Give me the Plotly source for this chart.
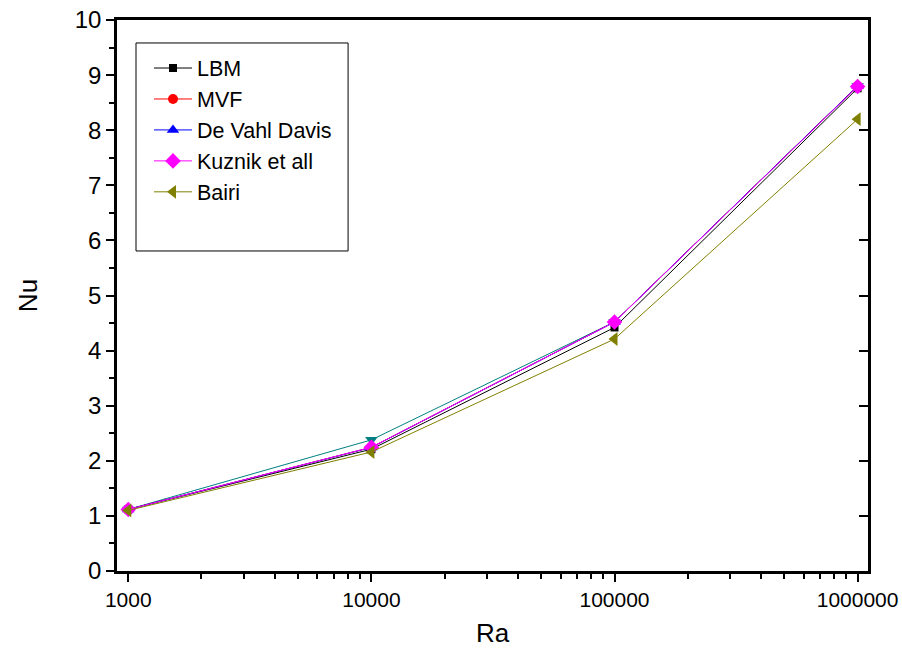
import plotly.graph_objects as go

ra = [1000, 10000, 100000, 1000000]
nu_lbm = [1.118, 2.21, 4.42, 8.76]
nu_mvf = [1.118, 2.245, 4.52, 8.80]
nu_dvd = [1.118, 2.243, 4.519, 8.800]
nu_kuz = [1.117, 2.246, 4.518, 8.792]
nu_bairi = [1.10, 2.16, 4.21, 8.20]
nu_extra = [1.118, 2.38, 4.52, 8.80]

x_ticks = [1000, 10000, 100000, 1000000]
x_ticktext = ["1000", "10000", "100000", "1000000"]
x_minor = [m * d for d in (1000, 10000, 100000) for m in range(2, 10)]

FONT = "Arial, Liberation Sans, sans-serif"

fig = go.Figure()

fig.add_trace(go.Scatter(x=ra, y=nu_extra, mode="lines+markers", showlegend=False,
                         line=dict(color="#008080", width=1),
                         marker=dict(symbol="triangle-down", size=11, color="#008080")))

series = [
    ("LBM", nu_lbm, "#000000", "square", 8),
    ("MVF", nu_mvf, "#ff0000", "circle", 10),
    ("De Vahl Davis", nu_dvd, "#0000ff", "triangle-up", 11),
    ("Kuznik et all", nu_kuz, "#ff00ff", "diamond", 12),
    ("Bairi", nu_bairi, "#808000", "triangle-left", 12),
]
for name, ys, col, sym, sz in series:
    fig.add_trace(go.Scatter(x=ra, y=ys, mode="lines+markers", name=name,
                             line=dict(color=col, width=1),
                             marker=dict(symbol=sym, size=sz, color=col)))

# empty helper trace so the right-hand tick axis is rendered
fig.add_trace(go.Scatter(x=[], y=[], yaxis="y2", showlegend=False,
                         hoverinfo="skip", mode="lines"))

fig.update_layout(
    width=902, height=652,
    margin=dict(l=117, r=34, t=20, b=81, autoexpand=False),
    paper_bgcolor="white", plot_bgcolor="white",
    font=dict(family=FONT, size=20, color="black"),
    showlegend=True,
    legend=dict(x=0.0426, y=0.950, xanchor="left", yanchor="top",
                bgcolor="rgba(0,0,0,0)", borderwidth=0,
                font=dict(family=FONT, size=21.5, color="black"),
                itemwidth=38, tracegroupgap=0),
    xaxis=dict(type="log", range=[2.9535, 6.0428], automargin=False,
               tickmode="array", tickvals=x_ticks, ticktext=x_ticktext,
               ticks="outside", ticklen=8, tickwidth=2, tickcolor="black",
               showline=True, linecolor="black", linewidth=2.5, mirror=True,
               showgrid=False, zeroline=False,
               tickfont=dict(family=FONT, size=21),
               minor=dict(tickmode="array", tickvals=x_minor, ticks="outside",
                          ticklen=5, tickwidth=2, tickcolor="black", showgrid=False),
               title=dict(text="Ra", font=dict(family=FONT, size=26), standoff=14)),
    yaxis=dict(range=[0, 10], tickmode="linear", tick0=0, dtick=1, automargin=False,
               ticks="outside", ticklen=8, tickwidth=2, tickcolor="black",
               showline=True, linecolor="black", linewidth=2.5, mirror=True,
               showgrid=False, zeroline=False,
               tickfont=dict(family=FONT, size=24),
               minor=dict(dtick=0.5, ticks="outside", ticklen=5, tickwidth=2,
                          tickcolor="black", showgrid=False),
               title=dict(text="Nu", font=dict(family=FONT, size=26), standoff=30)),
    yaxis2=dict(range=[0, 10], overlaying="y", side="right", automargin=False,
                tickmode="linear", tick0=0, dtick=1,
                ticks="inside", ticklen=9, tickwidth=2, tickcolor="black",
                showticklabels=False, showline=False, showgrid=False, zeroline=False),
)

fig.add_shape(type="rect", xref="paper", yref="paper",
              x0=0.0253, x1=0.3077, y0=0.5808, y1=0.9583,
              line=dict(color="black", width=1), fillcolor="rgba(0,0,0,0)")

fig.write_html("out.html")
